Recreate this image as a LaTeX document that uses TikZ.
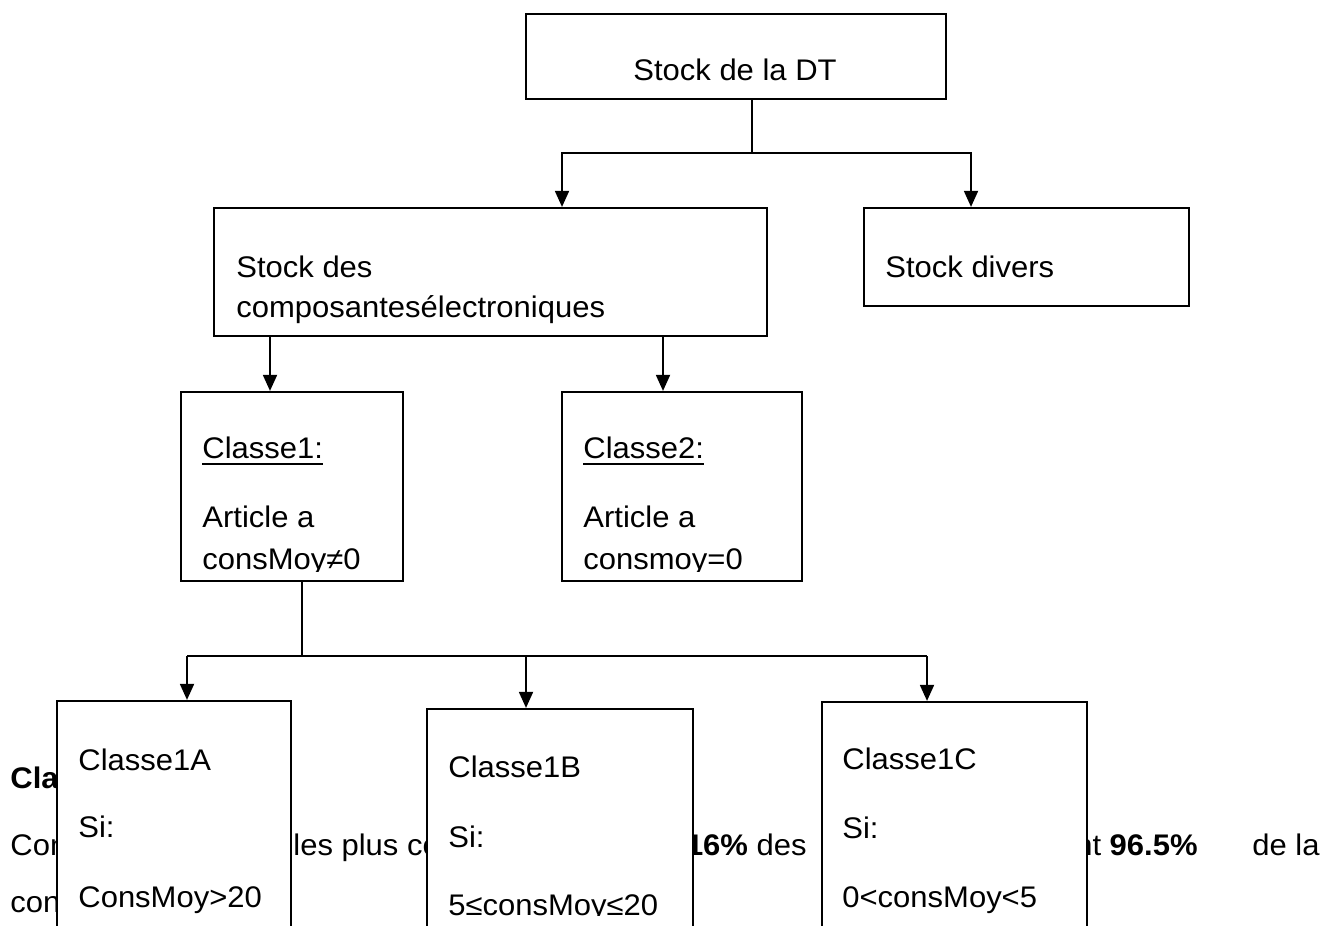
\documentclass[tikz,border=0pt]{standalone}
\usepackage{fontspec}
\setmainfont{Liberation Sans}[FakeStretch=1.04]
\usetikzlibrary{arrows.meta,fit}
\begin{document}
\begin{tikzpicture}[x=0.5pt,y=-0.5pt,
  font=\fontsize{14.9}{17}\selectfont,
  box/.style={draw, line width=1.1pt, fill=white, inner sep=0pt, rectangle},
  txt/.style={inner sep=0pt, anchor=base west},
  link/.style={line width=0.9pt},
  arr/.style={link, -{Triangle[length=8pt,width=7pt]}},
  uline/.style={line width=0.9pt}]
\useasboundingbox (0,0) rectangle (1325,925);
\clip (0,0) rectangle (1325,925);

% running text of the page, partly hidden by the boxes
\node[txt, font=\fontsize{14.9}{17}\selectfont\bfseries] (p1) at (10,788) {Cla};
\node[txt] (p2) at (10,855) {Con};
\node[txt] (p3) at (293,855) {les plus co};
\node[txt, anchor=base east] (p4) at (807,855) {\textbf{16\%} des};
\node[txt, anchor=base east] (p5) at (1198,855) {nt \textbf{96.5\%}};
\node[txt, anchor=base east] (p6) at (1320,855) {de la};
\node[txt] (p7) at (10,912) {con};

% level 0
\node[box, fit={(526,14) (946,99)}] (dt) {};
\node[txt] (dtt) at (633,81) {Stock de la DT};

% level 1
\node[box, fit={(214,208) (767,336)}] (comp) {};
\node[txt] (compa) at (236,277) {Stock des};
\node[txt] (compb) at (236,317) {composantesélectroniques};
\node[box, fit={(864,208) (1189,306)}] (div) {};
\node[txt] (divt) at (885,277) {Stock divers};

% level 2
\node[box, fit={(181,392) (403,581)}] (c1) {};
\begin{scope}
  \clip (181,392) rectangle (403,571);
  \node[txt] (c1a) at (202,458) {Classe1:};
  \node[txt] (c1b) at (202,527) {Article a};
  \node[txt] (c1c) at (202,569) {consMoy≠0};
\end{scope}
\draw[uline] ([yshift=-3pt]c1a.base west) -- ([yshift=-3pt]c1a.base east);

\node[box, fit={(562,392) (802,581)}] (c2) {};
\begin{scope}
  \clip (562,392) rectangle (802,571);
  \node[txt] (c2a) at (583,458) {Classe2:};
  \node[txt] (c2b) at (583,527) {Article a};
  \node[txt] (c2c) at (583,569) {consmoy=0};
\end{scope}
\draw[uline] ([yshift=-3pt]c2a.base west) -- ([yshift=-3pt]c2a.base east);

% level 3
\node[box, fit={(57,701) (291,990)}] (k1) {};
\node[txt] (k1a) at (78,770) {Classe1A};
\node[txt] (k1b) at (78,837) {Si:};
\node[txt] (k1c) at (78,907) {ConsMoy>20};

\node[box, fit={(427,709) (693,990)}] (k2) {};
\begin{scope}
  \clip (427,709) rectangle (693,915);
  \node[txt] (k2a) at (448,777) {Classe1B};
  \node[txt] (k2b) at (448,847) {Si:};
  \node[txt] (k2c) at (448,915) {5≤consMoy≤20};
\end{scope}

\node[box, fit={(822,702) (1087,990)}] (k3) {};
\node[txt] (k3a) at (842,769) {Classe1C};
\node[txt] (k3b) at (842,838) {Si:};
\node[txt] (k3c) at (842,907) {0<consMoy<5};

% connectors
\coordinate (j0) at (752,153);
\coordinate (a1) at (562,153);
\coordinate (a2) at (971,153);
\draw[link] (dt.south -| j0) -- (j0);
\draw[arr] (j0) -- (a1) -- (a1 |- comp.north);
\draw[arr] (j0) -- (a2) -- (a2 |- div.north);

\coordinate (a3) at (270,336);
\coordinate (a4) at (663,336);
\draw[arr] (a3 |- comp.south) -- (a3 |- c1.north);
\draw[arr] (a4 |- comp.south) -- (a4 |- c2.north);

\coordinate (j1) at (302,656);
\coordinate (b1) at (187,656);
\coordinate (b2) at (526,656);
\coordinate (b3) at (927,656);
\draw[link] (j1 |- c1.south) -- (j1);
\draw[link] (b1) -- (b3);
\draw[arr] (b1) -- (b1 |- k1.north);
\draw[arr] (b2) -- (b2 |- k2.north);
\draw[arr] (b3) -- (b3 |- k3.north);
\end{tikzpicture}
\end{document}
